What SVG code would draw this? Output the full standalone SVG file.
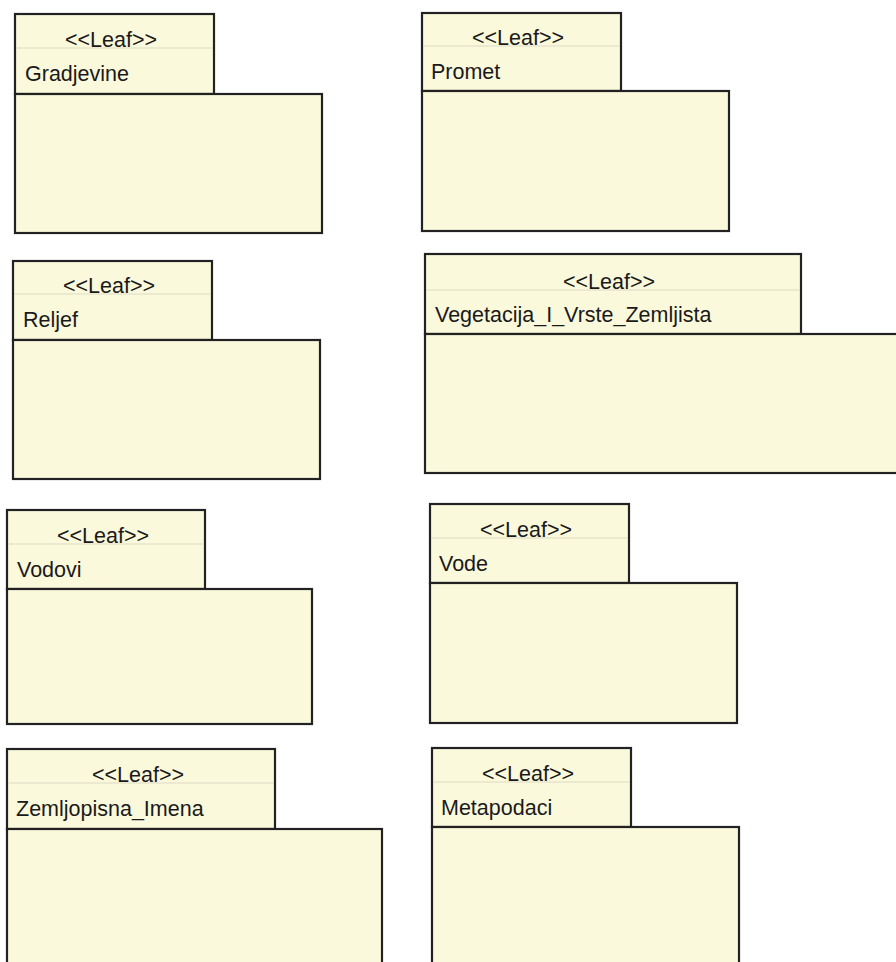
<svg xmlns="http://www.w3.org/2000/svg" width="896" height="962" viewBox="0 0 896 962">
<style>
.box{fill:#fbf9dc;stroke:#222;stroke-width:2.2}
.div{stroke:#dcdac4;stroke-width:1.2}
.t{font-family:"Liberation Sans",Arial,sans-serif;font-size:21.5px;fill:#1a1a1a}
.c{text-anchor:middle}
</style>
<rect width="896" height="962" fill="#ffffff"/>
<g id="Gradjevine">
<rect class="box" x="15" y="14" width="199" height="80"/>
<rect class="box" x="15" y="94" width="307" height="139"/>
<line class="div" x1="16" y1="48" x2="213" y2="48"/>
<text class="t c" x="111" y="47">&lt;&lt;Leaf&gt;&gt;</text>
<text class="t" x="25" y="81">Gradjevine</text>
</g>
<g id="Promet">
<rect class="box" x="422" y="13" width="199" height="78"/>
<rect class="box" x="422" y="91" width="307" height="140"/>
<line class="div" x1="423" y1="46" x2="620" y2="46"/>
<text class="t c" x="518" y="45">&lt;&lt;Leaf&gt;&gt;</text>
<text class="t" x="431" y="79">Promet</text>
</g>
<g id="Reljef">
<rect class="box" x="13" y="261" width="199" height="79"/>
<rect class="box" x="13" y="340" width="307" height="139"/>
<line class="div" x1="14" y1="294" x2="211" y2="294"/>
<text class="t c" x="109" y="293">&lt;&lt;Leaf&gt;&gt;</text>
<text class="t" x="23" y="327">Reljef</text>
</g>
<g id="Vegetacija_I_Vrste_Zemljista">
<rect class="box" x="425" y="254" width="376" height="80"/>
<rect class="box" x="425" y="334" width="480" height="139"/>
<line class="div" x1="426" y1="290" x2="800" y2="290"/>
<text class="t c" x="609" y="289">&lt;&lt;Leaf&gt;&gt;</text>
<text class="t" x="435" y="322">Vegetacija_I_Vrste_Zemljista</text>
</g>
<g id="Vodovi">
<rect class="box" x="7" y="510" width="198" height="79"/>
<rect class="box" x="7" y="589" width="305" height="135"/>
<line class="div" x1="8" y1="544" x2="204" y2="544"/>
<text class="t c" x="103" y="543">&lt;&lt;Leaf&gt;&gt;</text>
<text class="t" x="17" y="577">Vodovi</text>
</g>
<g id="Vode">
<rect class="box" x="430" y="504" width="199" height="79"/>
<rect class="box" x="430" y="583" width="307" height="140"/>
<line class="div" x1="431" y1="538" x2="628" y2="538"/>
<text class="t c" x="526" y="537">&lt;&lt;Leaf&gt;&gt;</text>
<text class="t" x="439" y="571">Vode</text>
</g>
<g id="Zemljopisna_Imena">
<rect class="box" x="7" y="749" width="268" height="80"/>
<rect class="box" x="7" y="829" width="375" height="150"/>
<line class="div" x1="8" y1="783" x2="274" y2="783"/>
<text class="t c" x="138" y="782">&lt;&lt;Leaf&gt;&gt;</text>
<text class="t" x="16" y="816">Zemljopisna_Imena</text>
</g>
<g id="Metapodaci">
<rect class="box" x="432" y="748" width="199" height="79"/>
<rect class="box" x="432" y="827" width="307" height="150"/>
<line class="div" x1="433" y1="782" x2="630" y2="782"/>
<text class="t c" x="528" y="781">&lt;&lt;Leaf&gt;&gt;</text>
<text class="t" x="441" y="815">Metapodaci</text>
</g>
<g id="connectors"/>
</svg>
